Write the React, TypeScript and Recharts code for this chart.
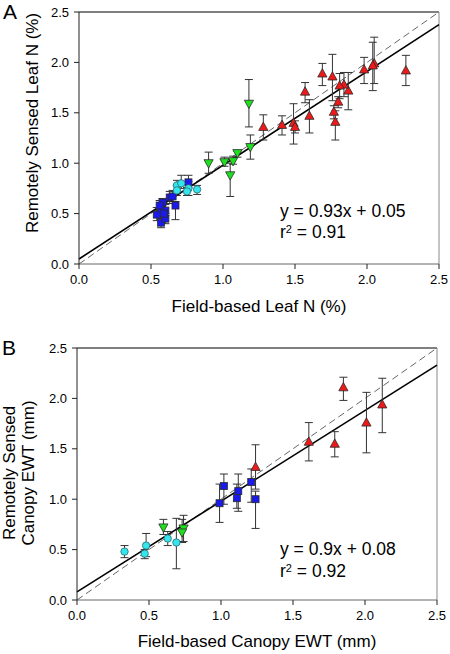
import React from 'react';
import { ScatterChart, Scatter, XAxis, YAxis, ErrorBar, ReferenceLine } from 'recharts';

// [x, y, errLow, errHigh]
type Pt = [number, number, number, number];

// Panel A: Leaf N (%)
const blueA: Pt[] = [
  [0.54, 0.49, 0.43, 0.56], [0.57, 0.41, 0.36, 0.45], [0.57, 0.55, 0.5, 0.61],
  [0.58, 0.61, 0.55, 0.65], [0.6, 0.53, 0.48, 0.59], [0.6, 0.45, 0.4, 0.5],
  [0.59, 0.5, 0.46, 0.55], [0.63, 0.66, 0.6, 0.72], [0.65, 0.67, 0.62, 0.73],
  [0.67, 0.58, 0.44, 0.62], [0.76, 0.81, 0.76, 0.88], [0.56, 0.58, 0.53, 0.63],
];
const cyanA: Pt[] = [
  [0.68, 0.78, 0.73, 0.83], [0.71, 0.8, 0.75, 0.88], [0.68, 0.73, 0.68, 0.78],
  [0.76, 0.75, 0.68, 0.82], [0.75, 0.72, 0.68, 0.76], [0.82, 0.74, 0.69, 0.78],
];
const greenA: Pt[] = [
  [0.9, 1.0, 0.9, 1.11], [1.01, 1.01, 0.97, 1.06], [1.05, 0.88, 0.67, 1.0],
  [1.07, 1.02, 0.99, 1.07], [1.1, 1.1, 1.06, 1.12], [1.19, 1.16, 1.04, 1.28],
  [1.18, 1.59, 1.36, 1.83],
];
const redA: Pt[] = [
  [2.27, 1.92, 1.77, 2.07], [2.05, 1.99, 1.79, 2.25], [2.04, 1.97, 1.72, 2.2],
  [1.98, 1.93, 1.79, 2.05], [1.87, 1.72, 1.53, 1.9], [1.84, 1.78, 1.66, 1.9],
  [1.81, 1.77, 1.64, 1.89], [1.8, 1.61, 1.55, 1.66], [1.77, 1.51, 1.44, 1.57],
  [1.78, 1.41, 1.23, 1.52], [1.76, 1.86, 1.62, 2.08], [1.69, 1.89, 1.77, 1.99],
  [1.57, 1.71, 1.6, 1.8], [1.6, 1.47, 1.3, 1.63], [1.49, 1.4, 1.19, 1.59],
  [1.5, 1.36, 1.3, 1.42], [1.41, 1.38, 1.28, 1.47], [1.28, 1.36, 1.23, 1.48],
];

// Panel B: Canopy EWT (mm)
const cyanB: Pt[] = [
  [0.33, 0.48, 0.42, 0.54], [0.48, 0.54, 0.43, 0.66], [0.47, 0.46, 0.41, 0.5],
  [0.63, 0.61, 0.54, 0.68], [0.69, 0.57, 0.31, 0.81],
];
const greenB: Pt[] = [
  [0.6, 0.72, 0.65, 0.8], [0.74, 0.71, 0.58, 0.84], [0.73, 0.67, 0.57, 0.8],
];
const blueB: Pt[] = [
  [0.99, 0.96, 0.77, 1.15], [1.02, 1.13, 0.95, 1.25], [1.12, 1.08, 0.88, 1.25],
  [1.11, 1.01, 0.91, 1.15], [1.21, 1.17, 0.97, 1.3], [1.24, 1.0, 0.71, 1.08],
];
const redB: Pt[] = [
  [1.85, 2.11, 1.98, 2.21], [2.12, 1.94, 1.66, 2.2], [2.01, 1.76, 1.46, 2.06],
  [1.79, 1.55, 1.42, 1.67], [1.61, 1.57, 1.38, 1.76], [1.24, 1.32, 1.1, 1.54],
];

const axisTicks = [0, 0.5, 1, 1.5, 2, 2.5];
const fitA = { slope: 0.93, intercept: 0.05, eq: 'y = 0.93x + 0.05', r2: '0.91' };
const fitB = { slope: 0.9, intercept: 0.08, eq: 'y = 0.9x + 0.08', r2: '0.92' };

const FONT = '"Liberation Sans", Arial, Helvetica, sans-serif';

const rows = (pts: Pt[]) => pts.map(([x, y, lo, hi]) => ({ x, y, err: [y - lo, hi - y] }));

const OUT = '#2a2a2a';
const UpTri = (p: any) => (
  <path d={`M${p.cx},${p.cy - 4.8}L${p.cx + 4.6},${p.cy + 3.5}L${p.cx - 4.6},${p.cy + 3.5}Z`} fill="#ee1a1a" stroke={OUT} strokeWidth={0.8} />
);
const DownTri = (p: any) => (
  <path d={`M${p.cx},${p.cy + 4.8}L${p.cx + 4.6},${p.cy - 3.5}L${p.cx - 4.6},${p.cy - 3.5}Z`} fill="#1ee01e" stroke={OUT} strokeWidth={0.8} />
);
const Circ = (p: any) => <circle cx={p.cx} cy={p.cy} r={3.7} fill="#33e6ee" stroke="#2a6a70" strokeWidth={0.8} />;
const Sq = (p: any) => <rect x={p.cx - 3.5} y={p.cy - 3.5} width={7} height={7} fill="#1a1aee" stroke={OUT} strokeWidth={0.8} />;

const tickStyle = { fontSize: 13, fill: '#000', fontFamily: FONT };
const fmt = (v: number) => v.toFixed(1);

function Panel(props: { margin: any; height: number; fit: any; series: { pts: Pt[]; shape: any; name: string }[] }) {
  const { margin, height, fit, series } = props;
  return (
    <ScatterChart width={450} height={height} margin={margin}>
      <XAxis
        type="number"
        dataKey="x"
        domain={[0, 2.5]}
        ticks={axisTicks}
        tickFormatter={fmt}
        tick={tickStyle}
        tickSize={5}
        tickMargin={6}
        height={30}
        axisLine={{ stroke: '#666' }}
        tickLine={{ stroke: '#222' }}
        allowDataOverflow
      />
      <YAxis
        type="number"
        dataKey="y"
        domain={[0, 2.5]}
        ticks={axisTicks}
        tickFormatter={fmt}
        tick={tickStyle}
        tickSize={5}
        tickMargin={5}
        width={40}
        axisLine={{ stroke: '#222' }}
        tickLine={{ stroke: '#222' }}
        allowDataOverflow
      />
      <ReferenceLine y={2.5} stroke="#000" ifOverflow="visible" />
      <ReferenceLine x={2.5} stroke="#888" ifOverflow="visible" />
      <ReferenceLine
        segment={[{ x: 0, y: 0 }, { x: 2.5, y: 2.5 }]}
        stroke="#555"
        strokeDasharray="7 4"
        strokeWidth={0.9}
        ifOverflow="visible"
      />
      <ReferenceLine
        segment={[{ x: 0, y: fit.intercept }, { x: 2.5, y: fit.intercept + fit.slope * 2.5 }]}
        stroke="#000"
        strokeWidth={1.6}
        ifOverflow="visible"
      />
      {series.map((s) => (
        <Scatter key={s.name} name={s.name} data={rows(s.pts)} shape={s.shape} isAnimationActive={false}>
          <ErrorBar dataKey="err" direction="y" width={4} stroke="#333" strokeWidth={1} />
        </Scatter>
      ))}
    </ScatterChart>
  );
}

export default function App() {
  return (
    <div style={{ position: 'absolute', left: 0, top: 0, width: 450, height: 654, background: '#fff', fontFamily: FONT }}>
      <div style={{ position: 'absolute', left: 0, top: 0 }}>
        <Panel
          height={330}
          margin={{ top: 12, right: 11, left: 39, bottom: 36 }}
          fit={fitA}
          series={[
            { pts: blueA, shape: Sq, name: 'blueA' },
            { pts: cyanA, shape: Circ, name: 'cyanA' },
            { pts: greenA, shape: DownTri, name: 'greenA' },
            { pts: redA, shape: UpTri, name: 'redA' },
          ]}
        />
      </div>
      <div style={{ position: 'absolute', left: 0, top: 330 }}>
        <Panel
          height={324}
          margin={{ top: 18, right: 13, left: 37, bottom: 24 }}
          fit={fitB}
          series={[
            { pts: cyanB, shape: Circ, name: 'cyanB' },
            { pts: greenB, shape: DownTri, name: 'greenB' },
            { pts: blueB, shape: Sq, name: 'blueB' },
            { pts: redB, shape: UpTri, name: 'redB' },
          ]}
        />
      </div>
      <svg width={450} height={654} style={{ position: 'absolute', left: 0, top: 0, pointerEvents: 'none' }} fontFamily={FONT}>
        <text x={3} y={19} fontSize={21} fill="#000">A</text>
        <text x={2} y={355} fontSize={21} fill="#000">B</text>

        <text transform="translate(38,123) rotate(-90)" textAnchor="middle" fontSize={17} fill="#000">Remotely Sensed Leaf N (%)</text>
        <text x={259} y={312} textAnchor="middle" fontSize={17} fill="#000">Field-based Leaf N (%)</text>

        <text transform="translate(15,473) rotate(-90)" textAnchor="middle" fontSize={17} fill="#000">Remotely Sensed</text>
        <text transform="translate(34,473) rotate(-90)" textAnchor="middle" fontSize={17} fill="#000">Canopy EWT (mm)</text>
        <text x={257} y={647} textAnchor="middle" fontSize={17} fill="#000">Field-based Canopy EWT (mm)</text>

        <text x={280} y={217} fontSize={17.5} fill="#000">{fitA.eq}</text>
        <text x={280} y={238} fontSize={17.5} fill="#000">
          r<tspan fontSize={11} dy={-5}>2</tspan><tspan dy={5}> = {fitA.r2}</tspan>
        </text>

        <text x={280} y={555} fontSize={17.5} fill="#000">{fitB.eq}</text>
        <text x={280} y={577} fontSize={17.5} fill="#000">
          r<tspan fontSize={11} dy={-5}>2</tspan><tspan dy={5}> = {fitB.r2}</tspan>
        </text>
      </svg>
    </div>
  );
}
